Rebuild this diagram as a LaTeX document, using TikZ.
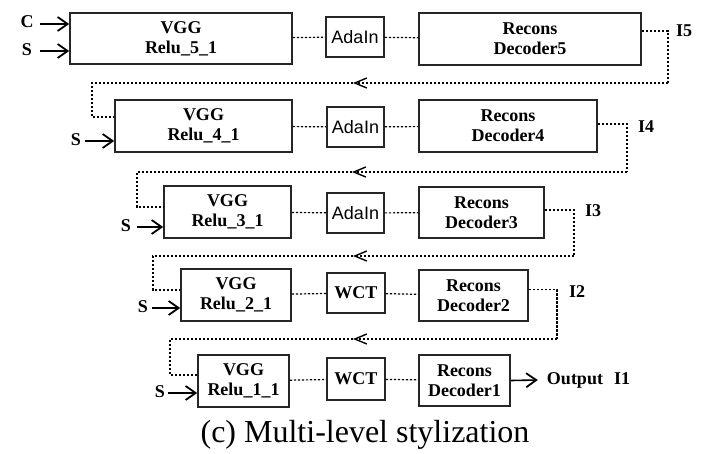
\documentclass[tikz,border=0pt]{standalone}
\usepackage{fontspec}
\setmainfont{Liberation Serif}
\newfontfamily\arialfont{Liberation Sans}
\usetikzlibrary{arrows.meta}
\begin{document}
\begin{tikzpicture}[x=1pt,y=-1pt,
  box/.style={draw=black!85,line width=1.6pt,inner sep=0pt,align=center,
    font=\fontsize{18}{20}\selectfont\bfseries},
  sbox/.style={draw=black!85,line width=1.6pt,inner sep=0pt,align=center,
    font=\fontsize{18}{20}\selectfont\arialfont},
  lbl/.style={font=\fontsize{18}{20}\selectfont\bfseries,inner sep=0pt},
  dotl/.style={line width=1.2pt,dash pattern=on 2.4pt off 1.6pt},
  arr/.style={line width=1.6pt,-{Straight Barb[length=10pt,width=14pt,line width=1.8pt]}},
  darr/.style={dotl,-{Straight Barb[length=12pt,width=10pt,line width=1.4pt]}}
]
\useasboundingbox (0,0) rectangle (713,453);

% Row 1
\node[box,minimum width=222,minimum height=51] (v5) at (181,38.5) {VGG\\Relu\_5\_1};
\node[sbox,minimum width=58,minimum height=40] (a5) at (355,37) {AdaIn};
\node[box,minimum width=222,minimum height=52] (d5) at (530,39) {Recons\\Decoder5};
\node[lbl] (c5) at (27,22) {C};
\node[lbl] (s5) at (27,50) {S};
\node[lbl] (i5) at (684,31) {I5};
\draw[arr] (c5) ++(13,2) coordinate (c5a) -- (c5a -| v5.west);
\draw[arr] (s5) ++(13,1) coordinate (s5a) -- (s5a -| v5.west);
\draw[dotl] (v5) -- (a5) -- (d5);

% Row 2
\node[box,minimum width=177,minimum height=52] (v4) at (203.5,126) {VGG\\Relu\_4\_1};
\node[sbox,minimum width=57,minimum height=40] (a4) at (355.5,127) {AdaIn};
\node[box,minimum width=178,minimum height=52] (d4) at (508,126) {Recons\\Decoder4};
\node[lbl] (s4) at (76,140) {S};
\node[lbl] (i4) at (646,127) {I4};
\draw[arr] (s4) ++(9,1) coordinate (s4a) -- (s4a -| v4.west);
\draw[dotl] (v4) -- (a4) -- (d4);

% Row 3
\node[box,minimum width=127,minimum height=52] (v3) at (227.5,212) {VGG\\Relu\_3\_1};
\node[sbox,minimum width=57,minimum height=40] (a3) at (355.5,213) {AdaIn};
\node[box,minimum width=125,minimum height=51] (d3) at (481.5,212.5) {Recons\\Decoder3};
\node[lbl] (s3) at (126,226) {S};
\node[lbl] (i3) at (593,211) {I3};
\draw[arr] (s3) ++(11,1) coordinate (s3a) -- (s3a -| v3.west);
\draw[dotl] (v3) -- (a3) -- (d3);

% Row 4
\node[box,minimum width=110,minimum height=52] (v2) at (236,295) {VGG\\Relu\_2\_1};
\node[box,minimum width=58,minimum height=40] (a2) at (356,293) {WCT};
\node[box,minimum width=109,minimum height=51] (d2) at (473.5,295.5) {Recons\\Decoder2};
\node[lbl] (s2) at (143,307) {S};
\node[lbl] (i2) at (577,292) {I2};
\draw[arr] (s2) ++(9,1) coordinate (s2a) -- (s2a -| v2.west);
\draw[dotl] (v2) -- (a2) -- (d2);

% Row 5
\node[box,minimum width=91,minimum height=52] (v1) at (243.5,381) {VGG\\Relu\_1\_1};
\node[box,minimum width=58,minimum height=42] (a1) at (356,379) {WCT};
\node[box,minimum width=91,minimum height=51] (d1) at (464.5,380.5) {Recons\\Decoder1};
\node[lbl] (s1) at (160,392) {S};
\node[lbl] (out) at (575,380) {Output};
\node[lbl] (i1) at (622,379) {I1};
\draw[arr] (d1.east) -- ([xshift=-9pt]out.west);
\draw[arr] (s1) ++(8,1) coordinate (s1a) -- (s1a -| v1.west);
\draw[dotl] (v1) -- (a1) -- (d1);

% Feedback paths
\coordinate (r5) at (668,83); \coordinate (m5) at (353,83); \coordinate (l5) at (92,83);
\draw[dotl] ([yshift=8pt]d5.east) -| (r5);
\draw[darr] (r5) -- (m5);
\draw[dotl] (m5) -- (l5) |- ([yshift=9pt]v4.west);

\coordinate (r4) at (627,172); \coordinate (m4) at (352,172); \coordinate (l4) at (137,172);
\draw[dotl] ([yshift=2pt]d4.east) -| (r4);
\draw[darr] (r4) -- (m4);
\draw[dotl] (m4) -- (l4) |- ([yshift=5pt]v3.west);

\coordinate (r3) at (574,256); \coordinate (m3) at (353,256); \coordinate (l3) at (153,256);
\draw[dotl] ([yshift=2.5pt]d3.east) -| (r3);
\draw[darr] (r3) -- (m3);
\draw[dotl] (m3) -- (l3) |- ([yshift=5pt]v2.west);

\coordinate (r2) at (557,339); \coordinate (m2) at (353,339); \coordinate (l2) at (170,339);
\draw[dotl] ([yshift=6pt]d2.east) -| (r2);
\draw[darr] (r2) -- (m2);
\draw[dotl] (m2) -- (l2) |- ([yshift=6pt]v1.west);

% Caption
\node[inner sep=0pt,font=\fontsize{32}{36}\selectfont] (cap) at (365,435) {(c) Multi-level stylization};
\end{tikzpicture}
\end{document}
